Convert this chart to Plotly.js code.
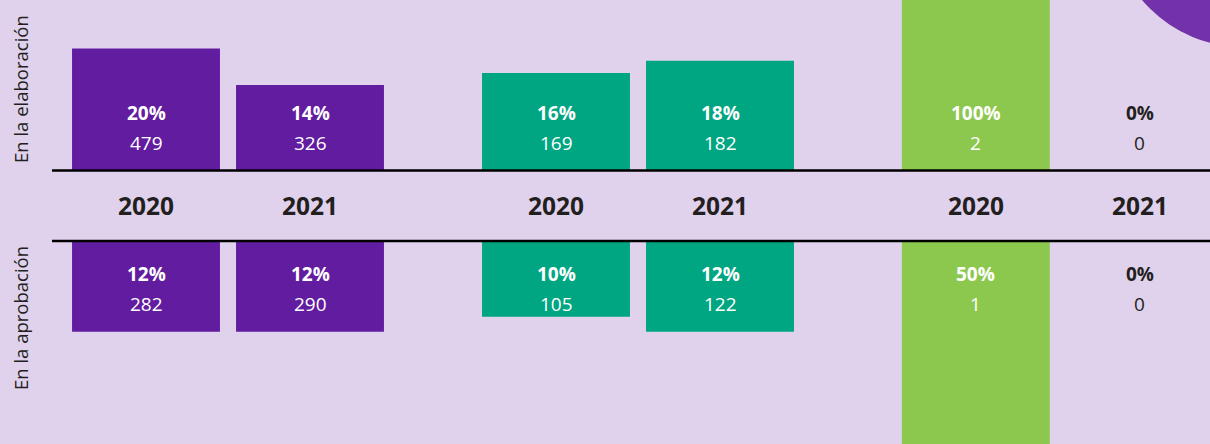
<!DOCTYPE html>
<html>
<head>
<meta charset="utf-8">
<script src="https://cdn.plot.ly/plotly-3.0.1.min.js"></script>
<style>
html,body{margin:0;padding:0;background:#e0d2ec;}
#chart{width:1210px;height:444px;}
</style>
</head>
<body>
<div id="chart"></div>
<script>
// ---- data ----
const groups = ["A", "B", "C"];
const years = ["2020", "2021"];
const elaboracionPct = [20, 14, 16, 18, 100, 0];
const elaboracionN = [479, 326, 169, 182, 2, 0];
const aprobacionPct = [12, 12, 10, 12, 50, 0];
const aprobacionN = [282, 290, 105, 122, 1, 0];
const rowLabels = ["En la elaboración", "En la aprobación"];
const groupColors = ["#621c9f", "#00a581", "#8dc84e"];

// ---- layout helpers ----
const W = 1210, H = 444;
const groupOffset = [0, 2.5, 5.06];
const xs = [], cols = [], yearLbl = [];
groups.forEach((g, gi) => {
  years.forEach((y, yi) => {
    xs.push(groupOffset[gi] + yi);
    cols.push(groupColors[gi]);
    yearLbl.push(y);
  });
});
const py = p => 1 - p / H;   // pixel row -> paper y
const px = p => p / W;

const dark = "#231f20";
const font = "Open Sans, Noto Sans, sans-serif";

const traces = [
  {type: "bar", x: xs, y: elaboracionPct, marker: {color: cols}, width: 0.902,
   xaxis: "x", yaxis: "y", hoverinfo: "skip", showlegend: false},
  {type: "bar", x: xs, y: aprobacionPct, marker: {color: cols}, width: 0.902,
   xaxis: "x", yaxis: "y2", hoverinfo: "skip", showlegend: false}
];

const ann = [];
xs.forEach((x, i) => {
  const c1 = elaboracionPct[i] > 0 ? "#ffffff" : dark;
  const c2 = aprobacionPct[i] > 0 ? "#ffffff" : dark;
  ann.push({x: x, xref: "x", y: py(113), yref: "paper", text: "<b>" + elaboracionPct[i] + "%</b>",
    showarrow: false, font: {family: font, size: 19, color: c1}, yanchor: "middle"});
  ann.push({x: x, xref: "x", y: py(143), yref: "paper", text: String(elaboracionN[i]),
    showarrow: false, font: {family: font, size: 19, color: c1}, yanchor: "middle"});
  ann.push({x: x, xref: "x", y: py(274), yref: "paper", text: "<b>" + aprobacionPct[i] + "%</b>",
    showarrow: false, font: {family: font, size: 19, color: c2}, yanchor: "middle"});
  ann.push({x: x, xref: "x", y: py(304), yref: "paper", text: String(aprobacionN[i]),
    showarrow: false, font: {family: font, size: 19, color: c2}, yanchor: "middle"});
  ann.push({x: x, xref: "x", y: py(206), yref: "paper", text: "<b>" + yearLbl[i] + "</b>",
    showarrow: false, font: {family: font, size: 24.5, color: dark}, yanchor: "middle"});
});
ann.push({x: px(20), xref: "paper", y: py(89), yref: "paper", text: rowLabels[0], textangle: -90,
  showarrow: false, font: {family: font, size: 18.5, color: dark}, xanchor: "center", yanchor: "middle"});
ann.push({x: px(20), xref: "paper", y: py(318), yref: "paper", text: rowLabels[1], textangle: -90,
  showarrow: false, font: {family: font, size: 18.5, color: dark}, xanchor: "center", yanchor: "middle"});

const cx = 1243, cy = -85, r = 132;
const layout = {
  width: W, height: H,
  margin: {l: 0, r: 0, t: 0, b: 0, pad: 0},
  paper_bgcolor: "#e0d2ec", plot_bgcolor: "rgba(0,0,0,0)",
  showlegend: false,
  xaxis: {range: [-146 / 164, (W - 146) / 164], visible: false, fixedrange: true},
  yaxis: {domain: [py(170), 1], range: [0, 170 / 6.07], visible: false},
  yaxis2: {domain: [0, py(241)], range: [203 / 7.57, 0], visible: false},
  annotations: ann,
  shapes: [
    {type: "circle", xref: "paper", yref: "paper", layer: "below",
     x0: px(cx - r), x1: px(cx + r), y0: py(cy + r), y1: py(cy - r),
     fillcolor: "#7232a9", line: {width: 0}},
    {type: "line", xref: "paper", yref: "paper", x0: px(52), x1: 1, y0: py(170.5), y1: py(170.5),
     line: {color: "#000000", width: 2.5}, layer: "above"},
    {type: "line", xref: "paper", yref: "paper", x0: px(52), x1: 1, y0: py(241), y1: py(241),
     line: {color: "#000000", width: 2.5}, layer: "above"}
  ]
};

Plotly.newPlot("chart", traces, layout, {staticPlot: true, displayModeBar: false});
</script>
</body>
</html>
